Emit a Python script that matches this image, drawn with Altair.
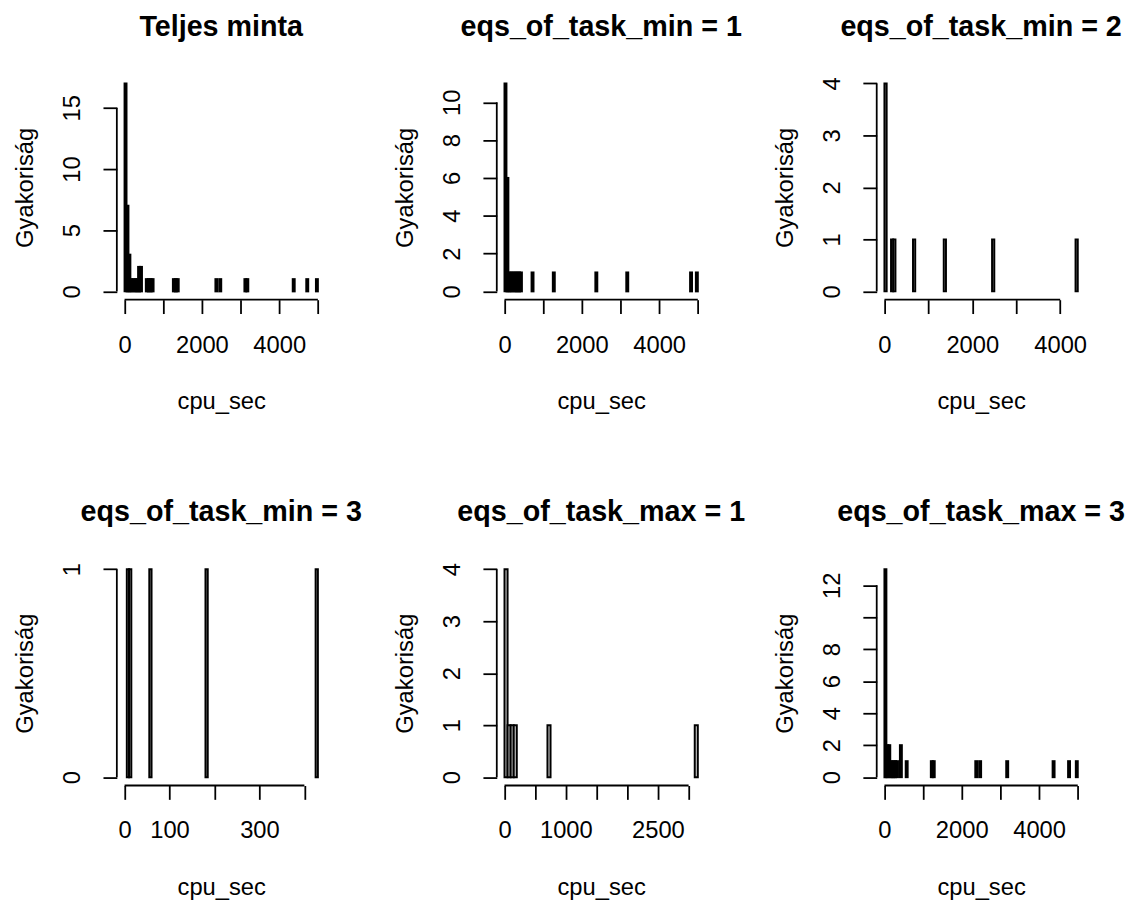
import altair as alt
import pandas as pd

FONT = "Liberation Sans"

TITLES = ["Teljes minta", "eqs_of_task_min = 1", "eqs_of_task_min = 2",
          "eqs_of_task_min = 3", "eqs_of_task_max = 1", "eqs_of_task_max = 3"]

BIN_WIDTH = [50, 50, 50, 5, 50, 50]
BREAK_MAX = [5000, 5000, 4400, 430, 3150, 5000]

# bin starts and counts
P1_START = [0, 50, 100, 150, 200, 250, 300, 350, 400, 550, 600, 650, 700,
            1250, 1300, 1350, 2350, 2450, 3100, 3150, 4350, 4700, 4950]
P1_COUNT = [17, 7, 3, 1, 1, 1, 1, 2, 2, 1, 1, 1, 1,
            1, 1, 1, 1, 1, 1, 1, 1, 1, 1]
P2_START = [0, 50, 100, 150, 200, 250, 300, 350, 400, 700, 1250, 2350, 3150, 4800, 4950]
P2_COUNT = [11, 6, 1, 1, 1, 1, 1, 1, 1, 1, 1, 1, 1, 1, 1]
P3_START = [0, 150, 200, 650, 1350, 2450, 4350]
P3_COUNT = [4, 1, 1, 1, 1, 1, 1]
P4_START = [5, 10, 55, 180, 425]
P4_COUNT = [1, 1, 1, 1, 1]
P5_START = [0, 50, 100, 150, 700, 3100]
P5_COUNT = [4, 1, 1, 1, 1, 1]
P6_START = [0, 50, 100, 150, 200, 250, 300, 400, 550, 1200, 1250, 2350, 2450, 3150, 4350, 4750, 4950]
P6_COUNT = [13, 2, 2, 1, 1, 1, 1, 2, 1, 1, 1, 1, 1, 1, 1, 1, 1]

STARTS = [P1_START, P2_START, P3_START, P4_START, P5_START, P6_START]
COUNTS = [P1_COUNT, P2_COUNT, P3_COUNT, P4_COUNT, P5_COUNT, P6_COUNT]

X_TICKS = [[0, 1000, 2000, 3000, 4000, 5000],
           [0, 1000, 2000, 3000, 4000, 5000],
           [0, 1000, 2000, 3000, 4000],
           [0, 100, 200, 300, 400],
           [0, 500, 1000, 1500, 2000, 2500, 3000],
           [0, 1000, 2000, 3000, 4000, 5000]]
X_SHOWN = [[0, 2000, 4000], [0, 2000, 4000], [0, 2000, 4000],
           [0, 100, 300], [0, 1000, 2500], [0, 2000, 4000]]
Y_TICKS = [[0, 5, 10, 15], [0, 2, 4, 6, 8, 10], [0, 1, 2, 3, 4],
           [0, 1], [0, 1, 2, 3, 4], [0, 2, 4, 6, 8, 10, 12]]
Y_SHOWN = [[0, 5, 10, 15], [0, 2, 4, 6, 8, 10], [0, 1, 2, 3, 4],
           [0, 1], [0, 1, 2, 3, 4], [0, 2, 4, 6, 8, 12]]

W, H = 211, 227
FS = 24
LW = 1.8


def panel(i):
    w = BIN_WIDTH[i]
    df = pd.DataFrame({"start": STARTS[i], "count": COUNTS[i]})
    df["end"] = df["start"] + w
    df["base"] = 0
    xm = BREAK_MAX[i]
    xdom = [-0.04 * xm, 1.04 * xm]
    ym = max(COUNTS[i])
    ydom = [-0.04 * ym, 1.04 * ym]
    xscale = alt.Scale(domain=xdom, nice=False, zero=False)
    yscale = alt.Scale(domain=ydom, nice=False, zero=False)

    xaxis = alt.Axis(values=X_TICKS[i], domain=False, grid=False, format="d",
                     labelExpr=f"indexof({X_SHOWN[i]}, datum.value) >= 0 ? datum.label : ''",
                     tickSize=14, tickWidth=LW, tickColor="black",
                     labelFont=FONT, labelFontSize=FS, labelColor="black",
                     labelPadding=20, labelFlush=False, labelOverlap=False,
                     title="cpu_sec", titleFont=FONT, titleFontSize=FS,
                     titleFontWeight="normal", titleColor="black", titlePadding=33)
    yaxis = alt.Axis(values=Y_TICKS[i], domain=False, grid=False, format="d",
                     labelExpr=f"indexof({Y_SHOWN[i]}, datum.value) >= 0 ? datum.label : ''",
                     tickSize=14, tickWidth=LW, tickColor="black",
                     labelAngle=270, labelAlign="center", labelBaseline="middle",
                     labelFont=FONT, labelFontSize=FS, labelColor="black",
                     labelPadding=31, labelFlush=False, labelOverlap=False,
                     title="Gyakoriság", titleFont=FONT, titleFontSize=FS,
                     titleFontWeight="normal", titleColor="black", titlePadding=23)

    bars = alt.Chart(df).mark_rect(fill="#D3D3D3", stroke="black", strokeWidth=2).encode(
        x=alt.X("start:Q", scale=xscale, axis=xaxis),
        x2="end:Q",
        y=alt.Y("base:Q", scale=yscale, axis=yaxis),
        y2="count:Q",
    )

    xt = pd.DataFrame({"xlo": [X_TICKS[i][0]], "xhi": [X_TICKS[i][-1]]})
    yt = pd.DataFrame({"ylo": [Y_TICKS[i][0]], "yhi": [Y_TICKS[i][-1]]})
    xline = alt.Chart(xt).mark_rule(color="black", strokeWidth=LW).encode(
        x=alt.X("xlo:Q", scale=xscale, axis=xaxis), x2="xhi:Q", y=alt.value(H))
    yline = alt.Chart(yt).mark_rule(color="black", strokeWidth=LW).encode(
        y=alt.Y("ylo:Q", scale=yscale, axis=yaxis), y2="yhi:Q", x=alt.value(0))

    return alt.layer(bars, xline, yline).properties(
        width=W, height=H,
        title=alt.Title(TITLES[i], font=FONT, fontSize=29, fontWeight="bold",
                        color="black", anchor="middle", frame="group", offset=34),
    )


chart = alt.concat(*[panel(i) for i in range(6)], columns=3,
                   spacing=alt.RowColnumber(row=264, column=173), bounds="flush"
                   ).properties(
                       background="white",
                       padding={"left": 5, "top": -1, "right": 5, "bottom": 2},
                   ).configure_view(stroke="transparent").configure_axis(labelOverlap=False)

chart.save("out.html", embed_options={"renderer": "svg", "actions": False})
